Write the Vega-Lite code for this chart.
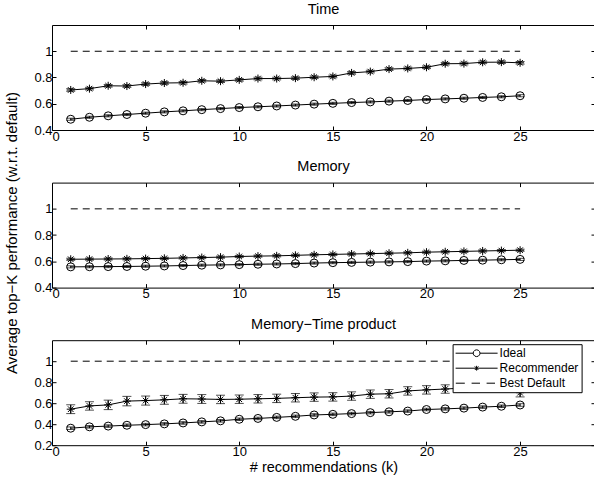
{
  "$schema": "https://vega.github.io/schema/vega-lite/v6.json",
  "padding": {"left": 5, "top": 1, "right": 0, "bottom": 0},
  "spacing": 52.6,
  "bounds": "flush",
  "title": {"text": "Average top−K performance (w.r.t. default)", "orient": "left", "anchor": "middle", "baseline": "alphabetic", "offset": 1, "fontSize": 15, "dx": 4.5},
  "datasets": {
    "time": [
      {"k":1,"series":"Ideal","mean":0.482,"err":0.008},{"k":2,"series":"Ideal","mean":0.497,"err":0.008},{"k":3,"series":"Ideal","mean":0.508,"err":0.008},{"k":4,"series":"Ideal","mean":0.518,"err":0.008},{"k":5,"series":"Ideal","mean":0.528,"err":0.008},
      {"k":6,"series":"Ideal","mean":0.538,"err":0.008},{"k":7,"series":"Ideal","mean":0.546,"err":0.008},{"k":8,"series":"Ideal","mean":0.555,"err":0.008},{"k":9,"series":"Ideal","mean":0.563,"err":0.008},{"k":10,"series":"Ideal","mean":0.571,"err":0.008},
      {"k":11,"series":"Ideal","mean":0.577,"err":0.008},{"k":12,"series":"Ideal","mean":0.583,"err":0.008},{"k":13,"series":"Ideal","mean":0.59,"err":0.008},{"k":14,"series":"Ideal","mean":0.597,"err":0.008},{"k":15,"series":"Ideal","mean":0.603,"err":0.008},
      {"k":16,"series":"Ideal","mean":0.609,"err":0.008},{"k":17,"series":"Ideal","mean":0.614,"err":0.008},{"k":18,"series":"Ideal","mean":0.62,"err":0.008},{"k":19,"series":"Ideal","mean":0.625,"err":0.008},{"k":20,"series":"Ideal","mean":0.632,"err":0.008},
      {"k":21,"series":"Ideal","mean":0.637,"err":0.008},{"k":22,"series":"Ideal","mean":0.642,"err":0.008},{"k":23,"series":"Ideal","mean":0.648,"err":0.008},{"k":24,"series":"Ideal","mean":0.653,"err":0.008},{"k":25,"series":"Ideal","mean":0.661,"err":0.008},
      {"k":1,"series":"Recommender","mean":0.705,"err":0.01},{"k":2,"series":"Recommender","mean":0.715,"err":0.01},{"k":3,"series":"Recommender","mean":0.737,"err":0.01},{"k":4,"series":"Recommender","mean":0.735,"err":0.01},{"k":5,"series":"Recommender","mean":0.75,"err":0.01},
      {"k":6,"series":"Recommender","mean":0.758,"err":0.01},{"k":7,"series":"Recommender","mean":0.76,"err":0.01},{"k":8,"series":"Recommender","mean":0.775,"err":0.01},{"k":9,"series":"Recommender","mean":0.772,"err":0.01},{"k":10,"series":"Recommender","mean":0.782,"err":0.01},
      {"k":11,"series":"Recommender","mean":0.792,"err":0.01},{"k":12,"series":"Recommender","mean":0.792,"err":0.01},{"k":13,"series":"Recommender","mean":0.795,"err":0.01},{"k":14,"series":"Recommender","mean":0.802,"err":0.01},{"k":15,"series":"Recommender","mean":0.808,"err":0.01},
      {"k":16,"series":"Recommender","mean":0.835,"err":0.01},{"k":17,"series":"Recommender","mean":0.845,"err":0.01},{"k":18,"series":"Recommender","mean":0.864,"err":0.01},{"k":19,"series":"Recommender","mean":0.869,"err":0.01},{"k":20,"series":"Recommender","mean":0.878,"err":0.01},
      {"k":21,"series":"Recommender","mean":0.905,"err":0.01},{"k":22,"series":"Recommender","mean":0.906,"err":0.01},{"k":23,"series":"Recommender","mean":0.916,"err":0.01},{"k":24,"series":"Recommender","mean":0.917,"err":0.01},{"k":25,"series":"Recommender","mean":0.912,"err":0.01}
    ],
    "memory": [
      {"k":1,"series":"Ideal","mean":0.558,"err":0.008},{"k":2,"series":"Ideal","mean":0.559,"err":0.008},{"k":3,"series":"Ideal","mean":0.56,"err":0.008},{"k":4,"series":"Ideal","mean":0.561,"err":0.008},{"k":5,"series":"Ideal","mean":0.563,"err":0.008},
      {"k":6,"series":"Ideal","mean":0.565,"err":0.008},{"k":7,"series":"Ideal","mean":0.568,"err":0.008},{"k":8,"series":"Ideal","mean":0.571,"err":0.008},{"k":9,"series":"Ideal","mean":0.573,"err":0.008},{"k":10,"series":"Ideal","mean":0.575,"err":0.008},
      {"k":11,"series":"Ideal","mean":0.578,"err":0.008},{"k":12,"series":"Ideal","mean":0.58,"err":0.008},{"k":13,"series":"Ideal","mean":0.583,"err":0.008},{"k":14,"series":"Ideal","mean":0.587,"err":0.008},{"k":15,"series":"Ideal","mean":0.59,"err":0.008},
      {"k":16,"series":"Ideal","mean":0.592,"err":0.008},{"k":17,"series":"Ideal","mean":0.594,"err":0.008},{"k":18,"series":"Ideal","mean":0.596,"err":0.008},{"k":19,"series":"Ideal","mean":0.598,"err":0.008},{"k":20,"series":"Ideal","mean":0.602,"err":0.008},
      {"k":21,"series":"Ideal","mean":0.604,"err":0.008},{"k":22,"series":"Ideal","mean":0.607,"err":0.008},{"k":23,"series":"Ideal","mean":0.609,"err":0.008},{"k":24,"series":"Ideal","mean":0.612,"err":0.008},{"k":25,"series":"Ideal","mean":0.615,"err":0.008},
      {"k":1,"series":"Recommender","mean":0.616,"err":0.008},{"k":2,"series":"Recommender","mean":0.617,"err":0.008},{"k":3,"series":"Recommender","mean":0.618,"err":0.008},{"k":4,"series":"Recommender","mean":0.619,"err":0.008},{"k":5,"series":"Recommender","mean":0.621,"err":0.008},
      {"k":6,"series":"Recommender","mean":0.623,"err":0.008},{"k":7,"series":"Recommender","mean":0.626,"err":0.008},{"k":8,"series":"Recommender","mean":0.629,"err":0.008},{"k":9,"series":"Recommender","mean":0.632,"err":0.008},{"k":10,"series":"Recommender","mean":0.637,"err":0.008},
      {"k":11,"series":"Recommender","mean":0.64,"err":0.008},{"k":12,"series":"Recommender","mean":0.642,"err":0.008},{"k":13,"series":"Recommender","mean":0.646,"err":0.008},{"k":14,"series":"Recommender","mean":0.65,"err":0.008},{"k":15,"series":"Recommender","mean":0.653,"err":0.008},
      {"k":16,"series":"Recommender","mean":0.656,"err":0.008},{"k":17,"series":"Recommender","mean":0.659,"err":0.008},{"k":18,"series":"Recommender","mean":0.662,"err":0.008},{"k":19,"series":"Recommender","mean":0.665,"err":0.008},{"k":20,"series":"Recommender","mean":0.67,"err":0.008},
      {"k":21,"series":"Recommender","mean":0.673,"err":0.008},{"k":22,"series":"Recommender","mean":0.676,"err":0.008},{"k":23,"series":"Recommender","mean":0.679,"err":0.008},{"k":24,"series":"Recommender","mean":0.682,"err":0.008},{"k":25,"series":"Recommender","mean":0.685,"err":0.008}
    ],
    "product": [
      {"k":1,"series":"Ideal","mean":0.362,"err":0.012},{"k":2,"series":"Ideal","mean":0.375,"err":0.012},{"k":3,"series":"Ideal","mean":0.382,"err":0.012},{"k":4,"series":"Ideal","mean":0.39,"err":0.012},{"k":5,"series":"Ideal","mean":0.396,"err":0.012},
      {"k":6,"series":"Ideal","mean":0.403,"err":0.012},{"k":7,"series":"Ideal","mean":0.412,"err":0.012},{"k":8,"series":"Ideal","mean":0.422,"err":0.012},{"k":9,"series":"Ideal","mean":0.432,"err":0.012},{"k":10,"series":"Ideal","mean":0.447,"err":0.012},
      {"k":11,"series":"Ideal","mean":0.455,"err":0.012},{"k":12,"series":"Ideal","mean":0.465,"err":0.012},{"k":13,"series":"Ideal","mean":0.475,"err":0.012},{"k":14,"series":"Ideal","mean":0.488,"err":0.012},{"k":15,"series":"Ideal","mean":0.494,"err":0.012},
      {"k":16,"series":"Ideal","mean":0.501,"err":0.012},{"k":17,"series":"Ideal","mean":0.51,"err":0.012},{"k":18,"series":"Ideal","mean":0.518,"err":0.012},{"k":19,"series":"Ideal","mean":0.525,"err":0.012},{"k":20,"series":"Ideal","mean":0.54,"err":0.012},
      {"k":21,"series":"Ideal","mean":0.546,"err":0.012},{"k":22,"series":"Ideal","mean":0.553,"err":0.012},{"k":23,"series":"Ideal","mean":0.563,"err":0.012},{"k":24,"series":"Ideal","mean":0.571,"err":0.012},{"k":25,"series":"Ideal","mean":0.583,"err":0.012},
      {"k":1,"series":"Recommender","mean":0.543,"err":0.042},{"k":2,"series":"Recommender","mean":0.574,"err":0.04},{"k":3,"series":"Recommender","mean":0.584,"err":0.045},{"k":4,"series":"Recommender","mean":0.62,"err":0.045},{"k":5,"series":"Recommender","mean":0.625,"err":0.043},
      {"k":6,"series":"Recommender","mean":0.632,"err":0.042},{"k":7,"series":"Recommender","mean":0.642,"err":0.042},{"k":8,"series":"Recommender","mean":0.64,"err":0.042},{"k":9,"series":"Recommender","mean":0.636,"err":0.04},{"k":10,"series":"Recommender","mean":0.638,"err":0.04},
      {"k":11,"series":"Recommender","mean":0.642,"err":0.04},{"k":12,"series":"Recommender","mean":0.646,"err":0.04},{"k":13,"series":"Recommender","mean":0.652,"err":0.04},{"k":14,"series":"Recommender","mean":0.658,"err":0.04},{"k":15,"series":"Recommender","mean":0.66,"err":0.04},
      {"k":16,"series":"Recommender","mean":0.668,"err":0.04},{"k":17,"series":"Recommender","mean":0.686,"err":0.04},{"k":18,"series":"Recommender","mean":0.69,"err":0.04},{"k":19,"series":"Recommender","mean":0.717,"err":0.04},{"k":20,"series":"Recommender","mean":0.727,"err":0.04},
      {"k":21,"series":"Recommender","mean":0.735,"err":0.04},{"k":22,"series":"Recommender","mean":0.745,"err":0.04},{"k":23,"series":"Recommender","mean":0.755,"err":0.04},{"k":24,"series":"Recommender","mean":0.76,"err":0.04},{"k":25,"series":"Recommender","mean":0.7,"err":0.04}
    ],
    "best": [{"k":1,"k2":25,"v":1}],
    "legend": [{"name":"Ideal"},{"name":"Recommender"},{"name":"Best Default"}]
  },
  "vconcat": [
    {
      "title": {"text": "Time"},
      "width": 543, "height": 105,
      "layer": [
        {"data": {"name": "time"}, "mark": {"type": "errorbar", "ticks": {"size": 9}, "color": "black", "thickness": 1},
         "encoding": {
           "x": {"field": "k", "type": "quantitative", "scale": {"domain": [0, 29], "nice": false, "zero": false}, "axis": {"orient": "bottom", "values": [0,5,10,15,20,25], "title": null}},
           "y": {"field": "mean", "type": "quantitative", "scale": {"domain": [0.4, 1.2], "nice": false, "zero": false}, "axis": {"orient": "left", "values": [0.4,0.6,0.8,1], "format": "~g", "title": null}},
           "yError": {"field": "err"}}},
        {"data": {"name": "time"}, "mark": {"type": "line", "color": "black", "strokeWidth": 1},
         "encoding": {
           "x": {"field": "k", "type": "quantitative", "axis": {"orient": "top", "values": [5,10,15,20,25], "labels": false, "title": null}},
           "y": {"field": "mean", "type": "quantitative", "axis": {"orient": "right", "values": [0.4,0.6,0.8,1], "labels": false, "title": null}},
           "detail": {"field": "series"}}},
        {"data": {"name": "time"}, "mark": {"type": "point", "filled": false, "color": "black", "size": 64, "strokeWidth": 1, "opacity": 1},
         "encoding": {
           "x": {"field": "k", "type": "quantitative", "axis": null},
           "y": {"field": "mean", "type": "quantitative", "axis": null},
           "shape": {"field": "series", "type": "nominal", "scale": {"domain": ["Ideal", "Recommender"], "range": ["circle", "M0,-1V1M-1,0H1M-0.7,-0.7L0.7,0.7M-0.7,0.7L0.7,-0.7"]}, "legend": null}}},
        {"data": {"name": "best"}, "mark": {"type": "rule", "color": "black", "strokeWidth": 1, "strokeDash": [7, 5]},
         "encoding": {
           "x": {"field": "k", "type": "quantitative", "axis": null},
           "x2": {"field": "k2"},
           "y": {"field": "v", "type": "quantitative", "axis": null}}}
      ],
      "resolve": {"axis": {"x": "independent", "y": "independent"}}
    },
    {
      "title": {"text": "Memory"},
      "width": 543, "height": 105,
      "layer": [
        {"data": {"name": "memory"}, "mark": {"type": "errorbar", "ticks": {"size": 9}, "color": "black", "thickness": 1},
         "encoding": {
           "x": {"field": "k", "type": "quantitative", "scale": {"domain": [0, 29], "nice": false, "zero": false}, "axis": {"orient": "bottom", "values": [0,5,10,15,20,25], "title": null}},
           "y": {"field": "mean", "type": "quantitative", "scale": {"domain": [0.4, 1.2], "nice": false, "zero": false}, "axis": {"orient": "left", "values": [0.4,0.6,0.8,1], "format": "~g", "title": null}},
           "yError": {"field": "err"}}},
        {"data": {"name": "memory"}, "mark": {"type": "line", "color": "black", "strokeWidth": 1},
         "encoding": {
           "x": {"field": "k", "type": "quantitative", "axis": {"orient": "top", "values": [5,10,15,20,25], "labels": false, "title": null}},
           "y": {"field": "mean", "type": "quantitative", "axis": {"orient": "right", "values": [0.4,0.6,0.8,1], "labels": false, "title": null}},
           "detail": {"field": "series"}}},
        {"data": {"name": "memory"}, "mark": {"type": "point", "filled": false, "color": "black", "size": 64, "strokeWidth": 1, "opacity": 1},
         "encoding": {
           "x": {"field": "k", "type": "quantitative", "axis": null},
           "y": {"field": "mean", "type": "quantitative", "axis": null},
           "shape": {"field": "series", "type": "nominal", "scale": {"domain": ["Ideal", "Recommender"], "range": ["circle", "M0,-1V1M-1,0H1M-0.7,-0.7L0.7,0.7M-0.7,0.7L0.7,-0.7"]}, "legend": null}}},
        {"data": {"name": "best"}, "mark": {"type": "rule", "color": "black", "strokeWidth": 1, "strokeDash": [7, 5]},
         "encoding": {
           "x": {"field": "k", "type": "quantitative", "axis": null},
           "x2": {"field": "k2"},
           "y": {"field": "v", "type": "quantitative", "axis": null}}}
      ],
      "resolve": {"axis": {"x": "independent", "y": "independent"}}
    },
    {
      "title": {"text": "Memory−Time product"},
      "width": 543, "height": 105,
      "layer": [
        {"data": {"name": "product"}, "mark": {"type": "errorbar", "ticks": {"size": 9}, "color": "black", "thickness": 1},
         "encoding": {
           "x": {"field": "k", "type": "quantitative", "scale": {"domain": [0, 29], "nice": false, "zero": false}, "axis": {"orient": "bottom", "values": [0,5,10,15,20,25], "title": "# recommendations (k)", "titlePadding": 2}},
           "y": {"field": "mean", "type": "quantitative", "scale": {"domain": [0.2, 1.2], "nice": false, "zero": false}, "axis": {"orient": "left", "values": [0.2,0.4,0.6,0.8,1], "format": "~g", "title": null}},
           "yError": {"field": "err"}}},
        {"data": {"name": "product"}, "mark": {"type": "line", "color": "black", "strokeWidth": 1},
         "encoding": {
           "x": {"field": "k", "type": "quantitative", "axis": {"orient": "top", "values": [5,10,15,20,25], "labels": false, "title": null}},
           "y": {"field": "mean", "type": "quantitative", "axis": {"orient": "right", "values": [0.2,0.4,0.6,0.8,1], "labels": false, "title": null}},
           "detail": {"field": "series"}}},
        {"data": {"name": "product"}, "mark": {"type": "point", "filled": false, "color": "black", "size": 64, "strokeWidth": 1, "opacity": 1},
         "encoding": {
           "x": {"field": "k", "type": "quantitative", "axis": null},
           "y": {"field": "mean", "type": "quantitative", "axis": null},
           "shape": {"field": "series", "type": "nominal", "scale": {"domain": ["Ideal", "Recommender"], "range": ["circle", "M0,-1V1M-1,0H1M-0.7,-0.7L0.7,0.7M-0.7,0.7L0.7,-0.7"]}, "legend": null}}},
        {"data": {"name": "best"}, "mark": {"type": "rule", "color": "black", "strokeWidth": 1, "strokeDash": [7, 5]},
         "encoding": {
           "x": {"field": "k", "type": "quantitative", "axis": null},
           "x2": {"field": "k2"},
           "y": {"field": "v", "type": "quantitative", "axis": null}}},
        {"data": {"name": "legend"}, "mark": {"type": "point", "filled": false, "color": "black", "opacity": 0},
         "encoding": {
           "shape": {"field": "name", "type": "nominal",
             "scale": {"domain": ["Ideal", "Recommender", "Best Default"],
                       "range": ["M-10.5,0H-1.7M1.7,0H10.5M1.7,0L1.472,0.85L0.85,1.472L0,1.7L-0.85,1.472L-1.472,0.85L-1.7,0L-1.472,-0.85L-0.85,-1.472L0,-1.7L0.85,-1.472L1.472,-0.85Z",
                                 "M-10.5,0H10.5M0,-1.2V1.2M-0.9,-0.9L0.9,0.9M-0.9,0.9L0.9,-0.9",
                                 "M-10.4,0H-5.9M-2.5,0H1.7M5,0H9.2"]},
             "legend": {"title": null, "orient": "none", "legendX": 400.6, "legendY": 4, "padding": 3, "symbolSize": 16, "symbolOffset": 15, "labelOffset": 17, "rowPadding": 3, "symbolOpacity": 1, "symbolStrokeColor": "black", "symbolFillColor": "transparent", "symbolStrokeWidth": 1, "strokeColor": "black", "fillColor": "white", "labelFont": "Liberation Sans", "labelFontSize": 12, "labelColor": "black", "cornerRadius": 0}}}}
      ],
      "resolve": {"axis": {"x": "independent", "y": "independent"}, "scale": {"shape": "independent"}, "legend": {"shape": "independent"}}
    }
  ],
  "config": {
    "view": {"stroke": "black", "strokeWidth": 1},
    "font": "Liberation Sans",
    "title": {"font": "Liberation Sans", "fontSize": 14.5, "fontWeight": "normal", "color": "black", "anchor": "middle", "baseline": "alphabetic", "offset": 7.5},
    "axis": {"grid": false, "domain": false, "tickSize": -4, "tickColor": "black", "tickWidth": 1, "labelPadding": 4, "labelFont": "Liberation Sans", "labelFontSize": 13, "labelColor": "black", "titleFont": "Liberation Sans", "titleFontSize": 14.5, "titleFontWeight": "normal", "titleColor": "black", "titlePadding": 4, "labelOverlap": false}
  }
}
